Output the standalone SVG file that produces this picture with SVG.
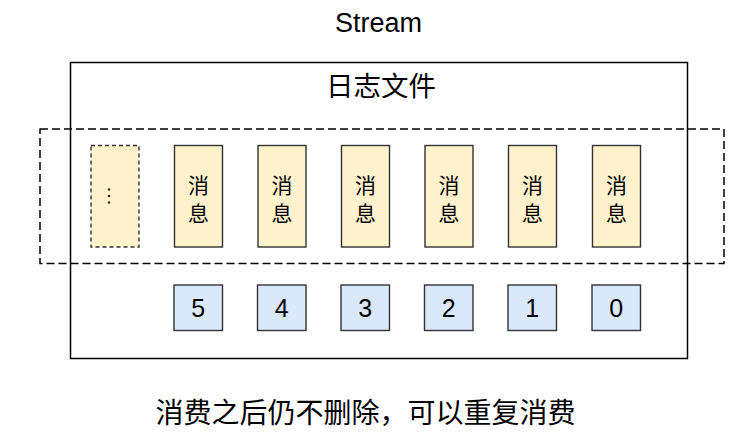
<svg xmlns="http://www.w3.org/2000/svg" width="753" height="440" viewBox="0 0 753 440">
  <style>
    text { font-family: "Noto Sans CJK SC", "Liberation Sans", sans-serif; fill: #000; text-anchor: middle; }
    .latin { font-family: "Liberation Sans", "Noto Sans CJK SC", sans-serif; }
    .msg { fill: #fff2cc; stroke: #333; stroke-width: 1.4; }
    .idx { fill: #dae8fc; stroke: #333; stroke-width: 1.4; }
    .msgt { font-size: 21px; }
    .idxt { font-family: "Liberation Sans", sans-serif; font-size: 25px; }
  </style>
  <rect width="753" height="440" fill="#fff"/>
  <text class="latin" x="378.5" y="32" font-size="27">Stream</text>

  <g id="log-file">
    <rect x="70.5" y="62.5" width="617" height="296" fill="none" stroke="#000" stroke-width="1.5"/>
    <text x="381" y="96" font-size="27.5">日志文件</text>
  </g>

  <g id="window">
    <rect x="40" y="129" width="684" height="134.5" fill="none" stroke="#000" stroke-width="1.5" stroke-dasharray="8 4"/>
  </g>

  <g id="more">
    <rect x="91" y="145.5" width="48" height="101.5" fill="#fff2cc" stroke="#333" stroke-width="1.4" stroke-dasharray="4 3"/>
    <circle cx="109" cy="189.5" r="1.3" fill="#333"/>
    <circle cx="109" cy="196" r="1.3" fill="#333"/>
    <circle cx="109" cy="202.5" r="1.3" fill="#333"/>
  </g>

  <g id="msg5"><rect class="msg" x="174.5" y="145.5" width="48" height="101.5"/><text class="msgt" x="198.5" y="193">消</text><text class="msgt" x="198.5" y="221">息</text></g>
  <g id="msg4"><rect class="msg" x="258" y="145.5" width="48" height="101.5"/><text class="msgt" x="282" y="193">消</text><text class="msgt" x="282" y="221">息</text></g>
  <g id="msg3"><rect class="msg" x="341.5" y="145.5" width="48" height="101.5"/><text class="msgt" x="365.5" y="193">消</text><text class="msgt" x="365.5" y="221">息</text></g>
  <g id="msg2"><rect class="msg" x="425" y="145.5" width="48" height="101.5"/><text class="msgt" x="449" y="193">消</text><text class="msgt" x="449" y="221">息</text></g>
  <g id="msg1"><rect class="msg" x="508.5" y="145.5" width="48" height="101.5"/><text class="msgt" x="532.5" y="193">消</text><text class="msgt" x="532.5" y="221">息</text></g>
  <g id="msg0"><rect class="msg" x="592.5" y="145.5" width="48" height="101.5"/><text class="msgt" x="616.5" y="193">消</text><text class="msgt" x="616.5" y="221">息</text></g>

  <g id="idx5"><rect class="idx" x="174" y="285" width="48.5" height="45.5"/><text class="idxt" x="198.3" y="316.5">5</text></g>
  <g id="idx4"><rect class="idx" x="257.5" y="285" width="48.5" height="45.5"/><text class="idxt" x="281.8" y="316.5">4</text></g>
  <g id="idx3"><rect class="idx" x="341" y="285" width="48.5" height="45.5"/><text class="idxt" x="365.3" y="316.5">3</text></g>
  <g id="idx2"><rect class="idx" x="424.5" y="285" width="48.5" height="45.5"/><text class="idxt" x="448.8" y="316.5">2</text></g>
  <g id="idx1"><rect class="idx" x="508" y="285" width="48.5" height="45.5"/><text class="idxt" x="532.3" y="316.5">1</text></g>
  <g id="idx0"><rect class="idx" x="592" y="285" width="48.5" height="45.5"/><text class="idxt" x="616.3" y="316.5">0</text></g>

  <g id="connectors"></g>

  <text x="365.5" y="423" font-size="28">消费之后仍不删除，可以重复消费</text>
</svg>
